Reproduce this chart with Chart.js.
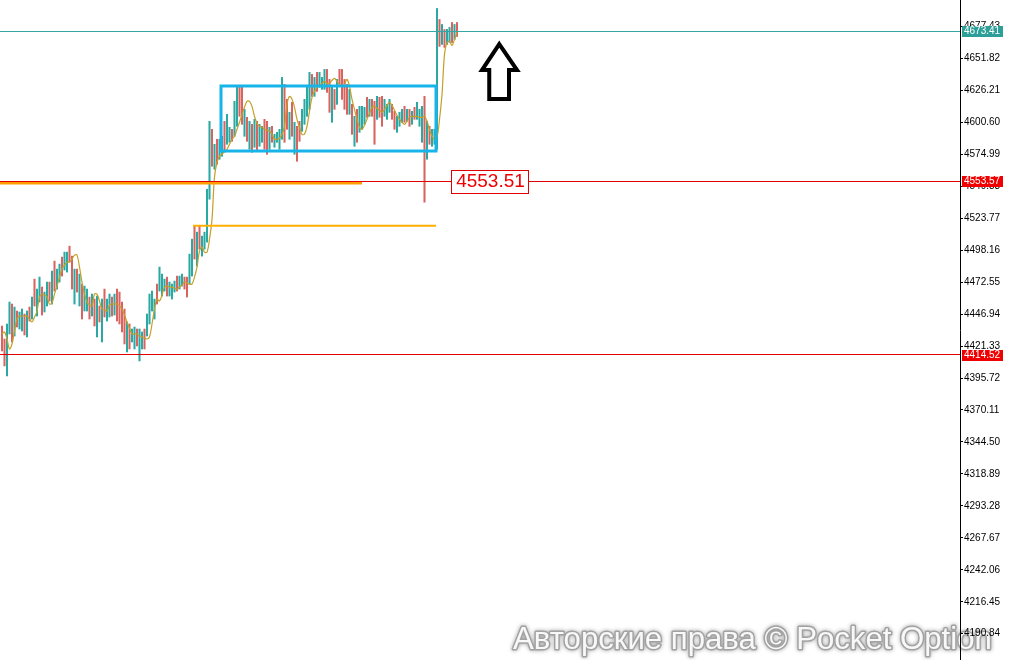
<!DOCTYPE html>
<html><head><meta charset="utf-8">
<script src="https://cdn.jsdelivr.net/npm/chart.js@4.4.1/dist/chart.umd.min.js"></script>
<style>html,body{margin:0;padding:0;background:#fff;overflow:hidden}canvas{display:block}</style>
</head><body>
<canvas id="c" width="1010" height="660"></canvas>
<script>
const opens=[4432.4,4421.6,4407.8,4437.4,4447.4,4435.2,4446.2,4438.4,4437.8,4442.8,
4433.8,4449.8,4447.4,4469.6,4450.8,4461.6,4463.0,4452.6,4458.2,4468.8,
4461.6,4483.4,4471.0,4476.2,4488.8,4485.8,4484.6,4498.2,4487.0,4462.0,
4478.4,4459.8,4464.0,4454.4,4453.8,4456.2,4449.8,4453.6,4436.8,4450.2,
4433.2,4461.4,4445.8,4449.2,4456.8,4450.4,4460.6,4458.2,4450.6,4444.0,
4422.6,4434.0,4427.2,4423.4,4431.6,4415.8,4422.4,4431.0,4433.8,4445.0,
4453.4,4447.0,4467.0,4470.2,4465.8,4467.8,4472.8,4464.2,4462.0,4466.8,
4474.4,4469.6,4471.8,4474.2,4472.6,4477.0,4484.8,4510.8,4492.2,4512.8,
4497.4,4502.4,4510.0,4545.0,4588.0,4568.0,4582.0,4575.0,4577.4,4595.2,
4589.0,4587.6,4592.6,4596.4,4605.4,4623.4,4621.8,4594.8,4599.8,4584.6,
4593.4,4586.2,4595.4,4585.8,4587.8,4597.0,4594.8,4583.4,4594.2,4583.2,
4586.6,4583.0,4599.4,4619.4,4613.0,4591.4,4609.8,4581.4,4590.4,4597.4,
4597.8,4604.0,4611.4,4618.4,4634.6,4625.2,4636.8,4631.0,4629.4,4631.0,
4638.4,4628.4,4607.8,4623.0,4620.0,4640.0,4637.0,4629.0,4625.0,4612.0,
4609.0,4587.4,4604.4,4597.8,4599.6,4602.4,4616.6,4608.8,4615.6,4608.8,
4607.6,4616.6,4615.4,4608.8,4606.0,4611.2,4612.0,4605.8,4595.8,4600.2,
4603.2,4610.2,4603.8,4607.6,4601.6,4610.2,4606.4,4600.8,4591.8,4604.6,
4578.6,4593.8,4584.8,4586.0,4590.0,4677.6,4667.0,4671.4,4666.0,4667.6,
4676.6,4670.0,4677.8];
const highs=[4437.4,4427.0,4439.0,4456.6,4455.0,4452.6,4449.4,4448.6,4451.0,4447.0,
4449.4,4452.6,4460.6,4475.0,4467.0,4476.6,4468.6,4464.6,4472.6,4472.6,
4481.4,4489.4,4483.0,4487.0,4492.6,4496.6,4496.6,4501.4,4493.4,4483.0,
4483.0,4479.0,4471.0,4469.4,4467.0,4460.6,4463.0,4459.0,4461.4,4453.4,
4459.0,4467.0,4459.0,4463.0,4460.6,4463.0,4467.0,4464.6,4456.6,4451.0,
4440.6,4439.0,4435.0,4436.6,4435.0,4435.0,4432.6,4435.0,4447.0,4463.0,
4465.4,4459.0,4471.0,4484.6,4479.0,4475.0,4476.6,4472.6,4471.0,4473.4,
4477.4,4477.4,4479.0,4476.6,4476.6,4495.0,4507.0,4517.4,4512.6,4517.4,
4509.4,4512.6,4547.0,4601.4,4595.0,4583.0,4587.0,4587.0,4589.4,4601.4,
4607.0,4596.6,4595.0,4617.4,4629.4,4629.4,4629.4,4611.0,4604.6,4601.4,
4599.0,4603.0,4601.4,4599.0,4597.4,4603.0,4601.4,4596.6,4597.4,4591.0,
4592.6,4595.0,4636.6,4631.0,4619.0,4608.6,4616.6,4600.6,4597.4,4601.4,
4611.0,4619.0,4629.4,4640.6,4639.0,4636.6,4640.6,4640.6,4636.6,4643.0,
4643.0,4635.0,4629.4,4627.0,4635.0,4643.0,4643.0,4635.0,4631.0,4627.0,
4615.0,4605.4,4611.0,4613.4,4613.4,4612.6,4620.6,4619.0,4619.0,4617.4,
4621.4,4620.6,4621.4,4619.0,4615.0,4619.0,4615.0,4609.4,4605.4,4608.6,
4611.0,4613.4,4611.0,4611.0,4609.4,4612.6,4616.6,4611.0,4613.4,4621.4,
4601.4,4597.4,4595.0,4595.0,4691.8,4683.0,4679.0,4675.0,4675.0,4676.6,
4680.6,4679.0,4680.6];
const lows=[4417.4,4405.4,4397.4,4431.0,4424.6,4429.4,4436.6,4435.0,4433.4,4430.2,
4428.6,4441.4,4443.0,4453.4,4445.4,4456.6,4446.2,4448.6,4453.4,4457.4,
4455.0,4465.4,4467.0,4472.6,4477.4,4482.2,4480.6,4488.6,4467.0,4455.0,
4464.6,4453.4,4443.0,4449.4,4449.4,4443.0,4445.4,4437.4,4428.6,4440.6,
4424.6,4444.6,4441.4,4444.6,4445.4,4446.2,4441.4,4439.0,4432.6,4423.0,
4416.6,4419.0,4424.6,4419.0,4421.4,4409.4,4419.0,4419.0,4429.4,4439.0,
4449.4,4443.0,4455.0,4465.4,4461.4,4465.4,4461.4,4461.4,4459.0,4464.6,
4465.4,4467.0,4469.4,4467.0,4460.6,4471.0,4477.4,4491.0,4485.4,4499.0,
4493.4,4499.0,4504.6,4539.0,4565.4,4563.0,4567.0,4571.0,4573.4,4576.6,
4583.0,4584.6,4585.4,4589.4,4597.4,4605.4,4599.0,4589.4,4585.4,4579.0,
4576.6,4580.6,4577.4,4581.4,4584.6,4579.0,4575.0,4579.0,4584.6,4580.6,
4584.6,4579.0,4587.0,4584.6,4595.0,4587.0,4589.4,4575.0,4569.4,4585.4,
4593.4,4599.0,4605.4,4611.0,4621.4,4621.4,4625.4,4628.6,4627.0,4627.0,
4624.6,4608.6,4600.6,4611.0,4615.0,4631.0,4619.0,4611.0,4607.0,4607.0,
4591.0,4581.4,4584.6,4592.6,4595.0,4599.0,4604.6,4605.4,4605.4,4583.0,
4603.0,4604.6,4597.4,4605.4,4603.0,4608.6,4603.0,4595.0,4592.6,4597.4,
4600.6,4600.6,4601.4,4597.4,4599.0,4603.0,4603.0,4597.4,4584.6,4536.6,
4571.0,4583.0,4581.4,4583.0,4579.0,4661.4,4663.0,4660.6,4663.0,4664.6,
4664.6,4667.0,4669.4];
const closes=[4422.4,4410.8,4428.6,4450.2,4432.2,4446.8,4439.8,4445.2,4446.6,4434.4,
4444.2,4444.2,4456.2,4458.8,4461.6,4471.6,4451.8,4460.6,4467.8,4461.2,
4474.8,4471.4,4479.0,4483.4,4481.2,4493.0,4492.6,4491.8,4473.6,4476.0,
4469.2,4472.6,4450.0,4464.4,4462.6,4447.4,4458.6,4442.8,4453.2,4443.8,
4450.4,4450.2,4454.6,4458.4,4449.2,4458.8,4447.8,4445.4,4438.6,4430.0,
4434.6,4424.0,4432.4,4432.2,4424.8,4428.6,4429.2,4423.0,4442.6,4457.0,
4461.4,4455.0,4459.0,4479.8,4474.6,4472.6,4465.2,4469.8,4468.0,4471.2,
4468.4,4474.8,4476.6,4469.4,4464.6,4489.0,4499.6,4497.6,4505.8,4503.6,
4505.4,4509.2,4540.0,4590.0,4572.0,4578.0,4572.0,4583.0,4585.4,4582.8,
4601.0,4593.6,4587.8,4610.4,4621.4,4611.4,4606.6,4605.6,4590.2,4595.8,
4582.2,4597.4,4583.4,4594.6,4594.2,4585.0,4581.6,4592.2,4587.8,4588.4,
4590.6,4591.0,4624.2,4596.2,4601.0,4604.2,4596.2,4594.2,4576.4,4589.4,
4606.6,4614.0,4623.4,4633.2,4625.8,4632.8,4629.2,4638.2,4634.2,4639.0,
4629.2,4615.2,4622.2,4615.0,4630.0,4634.0,4625.0,4617.0,4613.0,4622.0,
4597.0,4599.4,4591.2,4608.2,4608.8,4609.2,4608.6,4615.6,4608.8,4591.6,
4616.8,4608.6,4603.4,4615.6,4612.0,4616.4,4606.0,4598.6,4602.2,4605.8,
4608.4,4603.8,4608.6,4600.8,4606.8,4605.4,4613.2,4607.6,4606.2,4585.0,
4593.8,4586.6,4591.6,4592.0,4670.0,4666.8,4675.0,4664.2,4672.0,4673.6,
4668.6,4676.0,4673.4];
const maValues=[4431.0,4432.6,4427.0,4419.0,4423.0,4433.4,4443.0,4445.4,4445.4,4445.4,
4445.4,4443.0,4440.6,4444.6,4449.4,4460.6,4463.0,4462.2,4460.6,4455.0,
4455.8,4463.0,4469.4,4476.6,4483.0,4486.2,4488.6,4488.6,4491.0,4494.2,
4494.2,4484.6,4472.6,4463.0,4456.6,4454.2,4453.4,4463.0,4463.0,4457.4,
4451.0,4450.2,4449.4,4454.2,4455.0,4455.0,4455.0,4453.4,4451.0,4446.2,
4440.6,4435.8,4431.0,4431.0,4431.0,4429.4,4428.6,4427.8,4427.0,4428.6,
4439.0,4451.0,4459.0,4457.4,4462.2,4468.6,4469.4,4468.6,4468.6,4467.8,
4467.0,4468.6,4470.2,4472.6,4471.8,4471.0,4471.0,4476.6,4484.6,4497.4,
4500.6,4496.6,4496.6,4507.0,4523.0,4556.6,4568.6,4573.4,4575.0,4577.4,
4579.0,4583.0,4587.0,4589.4,4595.0,4600.6,4607.0,4612.6,4617.4,4617.4,
4613.4,4605.4,4599.8,4597.4,4596.6,4595.0,4594.2,4593.4,4591.0,4587.0,
4587.0,4587.8,4591.0,4597.4,4615.0,4621.4,4619.0,4612.6,4603.0,4596.6,
4591.0,4591.0,4597.4,4609.4,4620.6,4625.4,4628.6,4630.2,4631.8,4633.4,
4631.8,4631.8,4634.2,4635.8,4633.4,4631.0,4629.4,4631.0,4635.0,4629.4,
4619.0,4611.0,4603.0,4596.6,4595.0,4598.2,4603.0,4607.8,4612.6,4613.4,
4611.8,4610.2,4608.6,4611.0,4614.2,4616.6,4614.2,4610.2,4606.2,4603.0,
4600.6,4599.0,4601.4,4604.6,4605.4,4605.4,4605.4,4604.6,4604.6,4605.4,
4601.4,4595.0,4589.4,4587.0,4588.6,4603.0,4623.0,4655.0,4664.6,4665.4,
4662.2,4667.0,4672.6];
const tickValues=[4190.84,4216.45,4242.06,4267.67,4293.28,4318.89,4344.50,4370.11,4395.72,4421.33,
4446.94,4472.55,4498.16,4523.77,4549.38,4574.99,4600.60,4626.21,4651.82,4677.43];
const tickLabels=['4190.84','4216.45','4242.06','4267.67','4293.28','4318.89','4344.50','4370.11','4395.72','4421.33',
'4446.94','4472.55','4498.16','4523.77','4549.38','4574.99','4600.60','4626.21','4651.82','4677.43'];
const priceLevels=[4673.41,4553.57,4414.52];
const priceLevelLabels=['4673.41','4553.57','4414.52'];
const calloutText='4553.51';
const zoneLevel=4552.0, zoneEndIndex=144;
const breakoutLevel=4517.7, breakoutStartIndex=76.4, breakoutEndIndex=173.6;
const rangeBox={x0:87.6,x1:173.6,yLow:4577.6,yHigh:4629.7};
const calloutRange={x0:179.6,x1:210.4,value:4553.57};
const arrowPoints=[[198.9,4663.3],[206.0,4642.5],[202.8,4642.5],[202.8,4619.3],[194.9,4619.3],[194.9,4642.5],[192.0,4642.5]];
const watermark='Авторские права © Pocket Option';

const UP='#2aa8a2', DOWN='#d8645f';
const barData=highs.map((h,i)=>({x:i,y:[lows[i],h]}));
const barColors=closes.map((c,i)=>c>=opens[i]?UP:DOWN);
const maData=maValues.map((v,i)=>({x:i,y:v}));

function drawWatermark(ctx){
  ctx.save();
  let f='"Liberation Sans", Arial, sans-serif';
  ctx.font='32px '+f;
  const w=ctx.measureText(watermark).width;
  const size=32*479/w;
  ctx.font=size.toFixed(2)+'px '+f;
  ctx.textBaseline='alphabetic';
  ctx.lineJoin='round';
  ctx.shadowColor='rgba(0,0,0,0.35)';ctx.shadowBlur=4;
  ctx.strokeStyle='#a2a2a2';ctx.lineWidth=3;
  ctx.strokeText(watermark,513,649);
  ctx.shadowBlur=0;ctx.shadowColor='transparent';
  ctx.fillStyle='#f8f8f8';
  ctx.fillText(watermark,513,649);
  ctx.restore();
}
function hline(ctx,x0,x1,py,color,w){
  ctx.beginPath();ctx.strokeStyle=color;ctx.lineWidth=w;ctx.moveTo(x0,py);ctx.lineTo(x1,py);ctx.stroke();
}
const overlay={
  id:'overlay',
  beforeDraw(chart){
    const ctx=chart.ctx;ctx.save();ctx.fillStyle='#fff';ctx.fillRect(0,0,chart.width,chart.height);ctx.restore();
    drawWatermark(ctx);
  },
  afterDatasetsDraw(chart){
    const {ctx,chartArea:a,scales:{x,y}}=chart;
    ctx.save();
    ctx.beginPath();ctx.rect(a.left,a.top,a.right-a.left,a.bottom-a.top);ctx.clip();
    const crisp=v=>Math.floor(y.getPixelForValue(v))+0.5;
    hline(ctx,a.left,x.getPixelForValue(zoneEndIndex),y.getPixelForValue(zoneLevel),'#ff9d00',3);
    hline(ctx,x.getPixelForValue(breakoutStartIndex),x.getPixelForValue(breakoutEndIndex),y.getPixelForValue(breakoutLevel),'#ffb000',2);
    hline(ctx,a.left,a.right,crisp(priceLevels[0]),'#35a6a6',1);
    hline(ctx,a.left,a.right,crisp(priceLevels[1]),'#e00000',1);
    hline(ctx,a.left,a.right,crisp(priceLevels[2]),'#e00000',1);
    const rx0=x.getPixelForValue(rangeBox.x0),rx1=x.getPixelForValue(rangeBox.x1);
    const ry0=y.getPixelForValue(rangeBox.yHigh),ry1=y.getPixelForValue(rangeBox.yLow);
    ctx.strokeStyle='#17b4e9';ctx.lineWidth=3;ctx.strokeRect(rx0,ry0,rx1-rx0,ry1-ry0);
    const cx0=x.getPixelForValue(calloutRange.x0),cx1=x.getPixelForValue(calloutRange.x1);
    const cy=y.getPixelForValue(calloutRange.value);
    ctx.fillStyle='#fff';ctx.fillRect(cx0,cy-11.5,cx1-cx0,23);
    ctx.strokeStyle='#e00000';ctx.lineWidth=1;ctx.strokeRect(Math.round(cx0)+0.5,Math.round(cy-11.5)+0.5,Math.round(cx1-cx0),23);
    ctx.fillStyle='#ee0000';ctx.font='19px "Liberation Sans", Arial, sans-serif';ctx.textBaseline='middle';ctx.textAlign='center';
    ctx.fillText(calloutText,(cx0+cx1)/2+1,cy+1);
    ctx.beginPath();
    arrowPoints.forEach((p,i)=>{const px=x.getPixelForValue(p[0]),py=y.getPixelForValue(p[1]);if(i)ctx.lineTo(px,py);else ctx.moveTo(px,py);});
    ctx.closePath();ctx.strokeStyle='#000';ctx.lineWidth=4;ctx.lineJoin='miter';ctx.stroke();
    ctx.restore();
    ctx.save();
    const bg=['#2e9f98','#f00000','#f00000'];
    ctx.font='10px "Liberation Sans", Arial, sans-serif';ctx.textBaseline='middle';ctx.textAlign='left';
    priceLevels.forEach((v,i)=>{
      const py=Math.round(y.getPixelForValue(v));
      ctx.fillStyle=bg[i];ctx.fillRect(a.right+2,py-5,41,11);
      ctx.fillStyle='#fff';ctx.fillText(priceLevelLabels[i],a.right+4,py+0.5);
    });
    ctx.restore();
  }
};

new Chart(document.getElementById('c'),{
  type:'bar',
  data:{datasets:[
    {type:'line',data:maData,borderColor:'#c4a02a',borderWidth:1.2,pointRadius:0,tension:0.35,order:0},
    {type:'bar',data:barData,backgroundColor:barColors,borderWidth:0,barThickness:1.4,grouped:false,order:1}
  ]},
  options:{
    responsive:false,devicePixelRatio:1,animation:false,
    layout:{padding:0},
    plugins:{legend:{display:false},tooltip:{enabled:false}},
    scales:{
      x:{type:'linear',min:-0.8,max:383.2,offset:false,display:false,grid:{display:false}},
      y:{type:'linear',position:'right',min:4169.8,max:4698.6,
        afterBuildTicks:s=>{s.ticks=tickValues.map(v=>({value:v}));},
        afterFit:s=>{s.width=50;s.paddingTop=0;s.paddingBottom=0;},
        grid:{drawOnChartArea:false,drawTicks:true,tickLength:3,tickColor:'#000'},
        border:{display:true,color:'#000',width:1},
        ticks:{color:'#000',autoSkip:false,padding:1,font:{family:'Liberation Sans',size:10},callback:(v,i)=>tickLabels[i]}
      }
    }
  },
  plugins:[overlay]
});
</script>
</body></html>
